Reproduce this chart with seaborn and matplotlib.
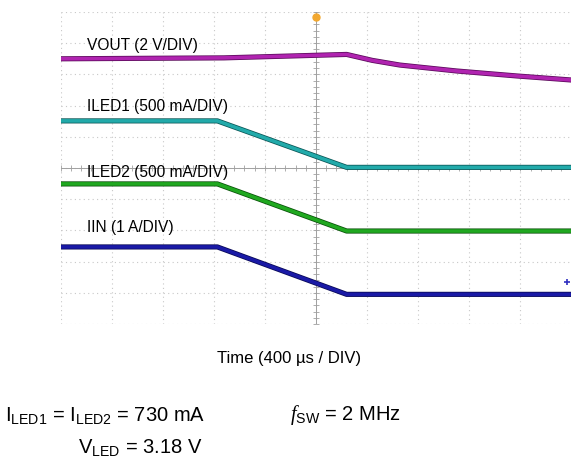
import matplotlib
matplotlib.use("Agg")
import matplotlib.pyplot as plt
import matplotlib.patheffects as pe
import numpy as np
import pandas as pd
import seaborn as sns

# scope traces, in divisions (x: time div from centre, y: div from centre)
vout_t = [-5.0, -1.8, 0.6, 1.1, 1.64, 2.75, 3.93, 5.0]
vout_v = [3.50, 3.53, 3.64, 3.45, 3.30, 3.11, 2.95, 2.82]

iled1_t = [-5.0, -1.93, 0.6, 5.0]
iled1_v = [1.51, 1.51, 0.02, 0.02]

iled2_t = [-5.0, -1.93, 0.6, 5.0]
iled2_v = [-0.51, -0.51, -2.02, -2.02]

iin_t = [-5.0, -1.93, 0.6, 5.0]
iin_v = [-2.53, -2.53, -4.05, -4.05]

trace_names = ["VOUT", "ILED1", "ILED2", "IIN"]
trace_colors = ["#b024b0", "#22aaaa", "#20a820", "#1a1aa6"]
edge_colors = ["#5a0a5a", "#0a5555", "#0a500a", "#0a0a55"]
trace_labels = ["VOUT (2 V/DIV)", "ILED1 (500 mA/DIV)", "ILED2 (500 mA/DIV)", "IIN (1 A/DIV)"]
label_y = [3.94, 1.96, -0.16, -1.92]

plt.rcParams["font.family"] = ["Liberation Sans", "DejaVu Sans"]
plt.rcParams["mathtext.fontset"] = "custom"
plt.rcParams["mathtext.rm"] = "Liberation Sans"
plt.rcParams["mathtext.it"] = "Liberation Serif:italic"

W, H = 571, 458
fig = plt.figure(figsize=(W / 100, H / 100), dpi=100)
ax = fig.add_axes([60.5 / W, (H - 324) / H, 511 / W, 312 / H])
ax.set_xlim(-5, 5)
ax.set_ylim(-5, 5)
ax.axis("off")

# dotted graticule
for g in range(-5, 6):
    ax.axvline(g, color="#c8c8c8", lw=0.8, ls=(0, (1, 3)), zorder=0)
    ax.axhline(g, color="#c8c8c8", lw=0.8, ls=(0, (1, 3)), zorder=0)

# centre crosshair with minor ticks
ax.axvline(0, color="#a0a0a0", lw=0.7, zorder=1)
ax.axhline(0, color="#a0a0a0", lw=0.7, zorder=1)
minor = np.arange(-5, 5.01, 0.2)
ax.plot(minor, np.zeros_like(minor), ls="none", marker="|", ms=4, mew=0.6, color="#a0a0a0", zorder=1)
ax.plot(np.zeros_like(minor), minor, ls="none", marker="_", ms=4, mew=0.6, color="#a0a0a0", zorder=1)

series = [(vout_t, vout_v), (iled1_t, iled1_v), (iled2_t, iled2_v), (iin_t, iin_v)]
for (t, v), name, col, edge in zip(series, trace_names, trace_colors, edge_colors):
    df = pd.DataFrame({"t": t, "v": v})
    sns.lineplot(data=df, x="t", y="v", ax=ax, color=col, lw=2.6,
                 sort=False, estimator=None, zorder=3,
                 path_effects=[pe.Stroke(linewidth=3.7, foreground=edge), pe.Normal()])

for txt, y in zip(trace_labels, label_y):
    ax.text(-4.49, y, txt, fontsize=11.2, va="center", ha="left", color="black", zorder=4)

# trigger marker and stray point
ax.plot([0], [4.84], marker="o", ms=5, color="#f2a830", zorder=5)
ax.plot([4.92], [-3.65], marker="+", ms=4, mew=1.2, color="#3030c0", zorder=5)

ax.set_xlabel("")
ax.set_ylabel("")

fig.text(289 / W, 1 - 359 / H, "Time (400 \u00b5s / DIV)", fontsize=12, ha="center", va="center")
fig.text(5 / W, 1 - 415 / H, r"I$_{\rm LED1}$ = I$_{\rm LED2}$ = 730 mA", fontsize=14.5, ha="left", va="center")
fig.text(203 / W, 1 - 447 / H, r"V$_{\rm LED}$ = 3.18 V", fontsize=14.5, ha="right", va="center")
fig.text(290 / W, 1 - 415 / H, r"$\it{f}$$_{\rm SW}$ = 2 MHz", fontsize=14.5, ha="left", va="center")

fig.savefig("out.png", dpi=100)
